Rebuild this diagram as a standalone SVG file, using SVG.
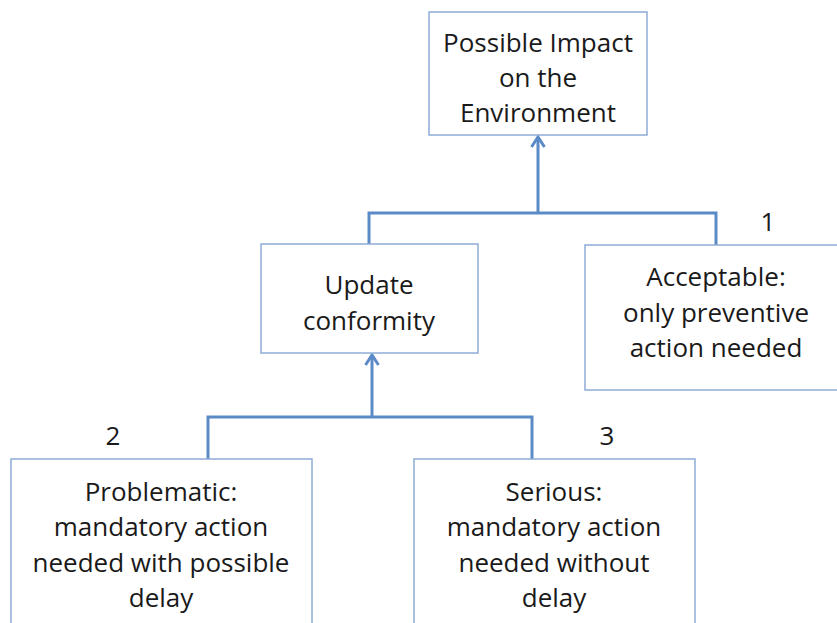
<svg xmlns="http://www.w3.org/2000/svg" width="837" height="623" viewBox="0 0 837 623">
<style>
.box{fill:#fff;stroke:#8facd6;stroke-width:1.5}
.t{font-family:"Open Sans","Liberation Sans",sans-serif;font-size:26px;fill:#1a1a1a;text-anchor:middle}
.c{fill:none;stroke:#5a8bc6;stroke-width:3}
</style>
<defs>
<marker id="ah" markerWidth="16" markerHeight="16" viewBox="0 0 16 16" refX="13" refY="8" orient="auto" markerUnits="userSpaceOnUse">
<polyline points="3,1.5 13,8 3,14.5" fill="none" stroke="#5a8bc6" stroke-width="3"/>
</marker>
</defs>
<rect width="837" height="623" fill="#fff"/>
<g id="connectors">
<path class="c" d="M538,213 V137" marker-end="url(#ah)"/>
<path class="c" d="M369,244 V213 H716 V245"/>
<path class="c" d="M372,417 V355" marker-end="url(#ah)"/>
<path class="c" d="M208,459 V417 H532 V459"/>
</g>
<g id="impact">
<rect class="box" x="429" y="12" width="218" height="123"/>
<text class="t" x="538" y="52">Possible Impact</text>
<text class="t" x="538" y="87">on the</text>
<text class="t" x="538" y="122">Environment</text>
</g>
<g id="update">
<rect class="box" x="261" y="244" width="217" height="109"/>
<text class="t" x="369" y="294">Update</text>
<text class="t" x="369" y="330">conformity</text>
</g>
<g id="acceptable">
<rect class="box" x="585" y="245" width="260" height="145"/>
<text class="t" x="716" y="286">Acceptable:</text>
<text class="t" x="716" y="322">only preventive</text>
<text class="t" x="716" y="357">action needed</text>
<text class="t" x="768" y="231">1</text>
</g>
<g id="problematic">
<rect class="box" x="11" y="459" width="301" height="180"/>
<text class="t" x="161" y="501">Problematic:</text>
<text class="t" x="161" y="536">mandatory action</text>
<text class="t" x="161" y="572">needed with possible</text>
<text class="t" x="161" y="607">delay</text>
<text class="t" x="113" y="445">2</text>
</g>
<g id="serious">
<rect class="box" x="414" y="459" width="281" height="180"/>
<text class="t" x="554" y="501">Serious:</text>
<text class="t" x="554" y="536">mandatory action</text>
<text class="t" x="554" y="572">needed without</text>
<text class="t" x="554" y="607">delay</text>
<text class="t" x="607" y="445">3</text>
</g>
</svg>
